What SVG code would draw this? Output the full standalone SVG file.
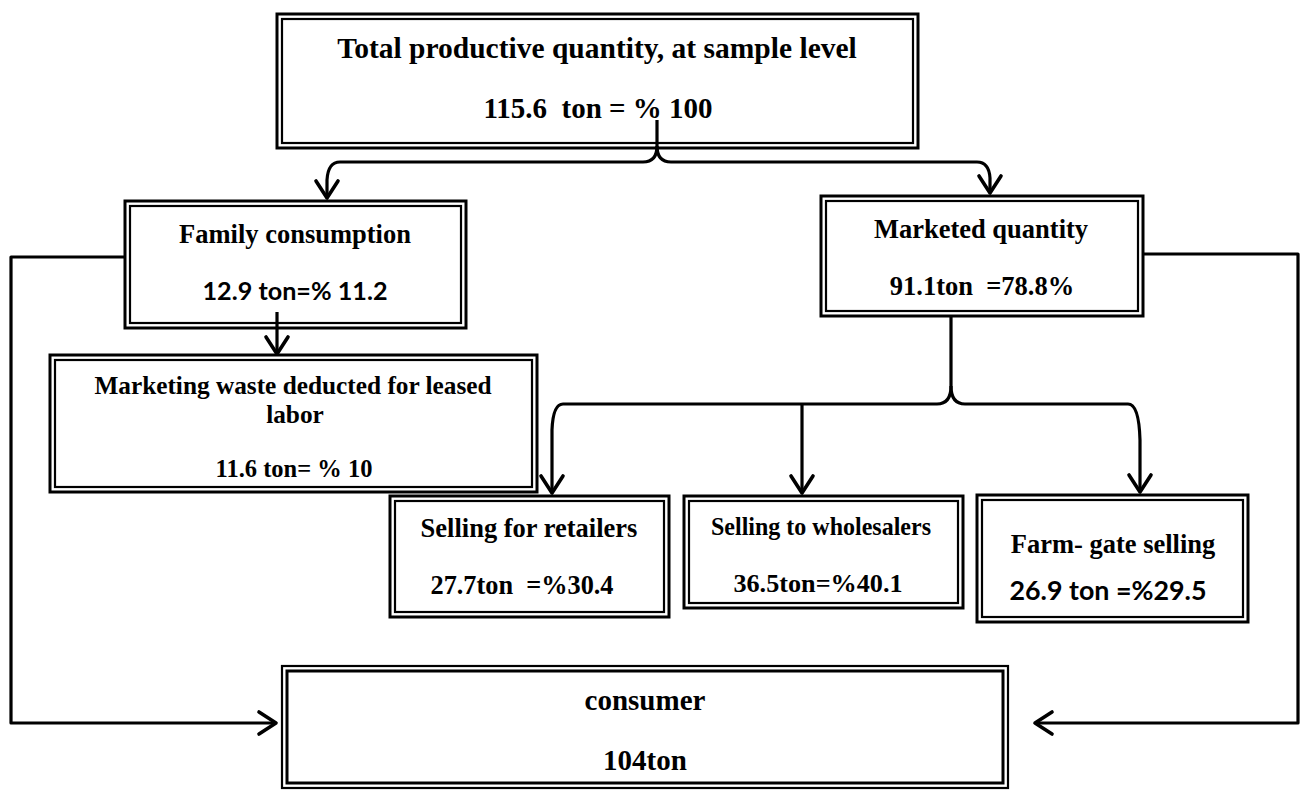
<svg xmlns="http://www.w3.org/2000/svg" width="1300" height="790" viewBox="0 0 1300 790">
<style>
  .o{fill:none;stroke:#000;stroke-width:3}
  .i{fill:none;stroke:#000;stroke-width:2.2}
  .bg{fill:#fff;stroke:none}
  .t{font-family:"Liberation Serif","Times New Roman",serif;font-weight:bold;fill:#000;text-anchor:middle}
  .s{font-family:Lato,"Liberation Sans",sans-serif;font-weight:bold;fill:#000;text-anchor:middle}
  .c{fill:none;stroke:#000;stroke-width:3.2;stroke-linejoin:round}
</style>
<defs>
  <marker id="ah" markerUnits="userSpaceOnUse" markerWidth="1" markerHeight="1" refX="0" refY="0" orient="auto" overflow="visible">
    <path d="M-17,-11 L0,0 L-17,11" fill="none" stroke="#000" stroke-width="3.6" stroke-linejoin="round" stroke-linecap="round"/>
  </marker>
</defs>
<rect width="1300" height="790" fill="#fff"/>

<g id="top">
  <rect class="o" x="277" y="14" width="641" height="134"/>
  <rect class="i" x="282" y="19" width="631" height="124"/>
  <text class="t" x="597" y="58" font-size="29.5">Total productive quantity, at sample level</text>
  <text class="t" x="598" y="118" font-size="29" xml:space="preserve">115.6  ton = % 100</text>
</g>

<g id="family">
  <rect class="o" x="125" y="201" width="341" height="127"/>
  <rect class="i" x="130" y="206" width="331" height="117"/>
  <text class="t" x="295" y="243" font-size="26.5">Family consumption</text>
  <text class="s" x="295" y="300" font-size="24.5" textLength="185" lengthAdjust="spacingAndGlyphs">12.9 ton=% 11.2</text>
</g>

<g id="marketed">
  <rect class="o" x="821" y="196" width="322" height="120"/>
  <rect class="i" x="826" y="201" width="312" height="110"/>
  <text class="t" x="981" y="238" font-size="26.5">Marketed quantity</text>
  <text class="t" x="982" y="295" font-size="26.5" xml:space="preserve">91.1ton  =78.8%</text>
</g>

<g id="waste">
  <rect class="o" x="50" y="355" width="487" height="137"/>
  <rect class="i" x="55" y="360" width="477" height="127"/>
  <text class="t" x="293" y="394" font-size="25.3">Marketing waste deducted for leased</text>
  <text class="t" x="295" y="423" font-size="25.3">labor</text>
  <text class="t" x="294" y="477" font-size="24.5">11.6 ton= % 10</text>
</g>

<g id="retailers">
  <rect class="o" x="390" y="496" width="279" height="121"/>
  <rect class="i" x="395" y="501" width="269" height="111"/>
  <text class="t" x="529" y="537" font-size="26.5">Selling for retailers</text>
  <text class="t" x="522" y="594" font-size="26.3" xml:space="preserve">27.7ton  =%30.4</text>
</g>

<g id="wholesalers">
  <rect class="o" x="684" y="496" width="279" height="112"/>
  <rect class="i" x="689" y="501" width="269" height="102"/>
  <text class="t" x="821" y="535" font-size="26" textLength="220" lengthAdjust="spacingAndGlyphs">Selling to wholesalers</text>
  <text class="t" x="818" y="592" font-size="26.2">36.5ton=%40.1</text>
</g>

<g id="farmgate">
  <rect class="o" x="977" y="495" width="271" height="127"/>
  <rect class="i" x="982" y="500" width="261" height="117"/>
  <text class="t" x="1113" y="553" font-size="26.5">Farm- gate selling</text>
  <text class="s" x="1108" y="600" font-size="26.5" textLength="197" lengthAdjust="spacingAndGlyphs">26.9 ton =%29.5</text>
</g>

<g id="consumer">
  <rect class="o" x="282" y="666" width="726" height="122" style="stroke-width:2.2"/>
  <rect class="i" x="287" y="671" width="716" height="112" style="stroke-width:3"/>
  <text class="t" x="645" y="710" font-size="29">consumer</text>
  <text class="t" x="645" y="770" font-size="29">104ton</text>
</g>

<g id="connectors">
  <path class="c" d="M657,120 L657,146 Q657,162 643,162 L340,162 Q328,162 327,180 L327,198" marker-end="url(#ah)"/>
  <path class="c" d="M657,146 Q657,162 671,162 L977,162 Q989,162 990,178 L990,193" marker-end="url(#ah)"/>
  <path class="c" d="M277,312 L277,354" marker-end="url(#ah)"/>
  <path class="c" d="M125,257 L11,257 L11,723 L276,723" marker-end="url(#ah)"/>
  <path class="c" d="M1143,254 L1298,254 L1298,723 L1035,723" marker-end="url(#ah)"/>
  <path class="c" d="M951,316 L951,386 Q951,404 937,404 L563,404 Q553,404 552,430 L552,493" marker-end="url(#ah)"/>
  <path class="c" d="M951,386 Q951,404 965,404 L1128,404 Q1139,404 1140,440 L1140,492" marker-end="url(#ah)"/>
  <path class="c" d="M802,404 L802,493" marker-end="url(#ah)"/>
</g>
</svg>
